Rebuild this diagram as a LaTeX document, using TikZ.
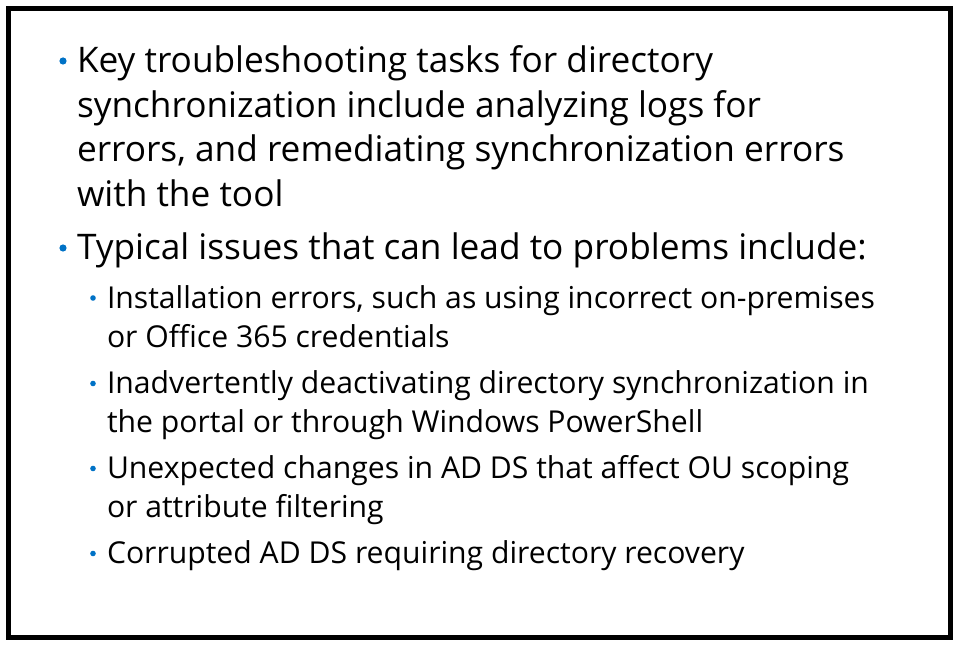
\documentclass[tikz,border=0pt]{standalone}
\usepackage{fontspec}
\setmainfont{Open Sans}
\definecolor{bulletblue}{HTML}{0072C6}
\newlength\LwA
\newlength\LwB
\newlength\FsA
\newlength\FsB
\begin{document}
\settowidth\LwA{\fontsize{10pt}{12pt}\selectfont Key troubleshooting tasks for directory}%
\settowidth\LwB{\fontsize{10pt}{12pt}\selectfont Installation errors, such as using incorrect on-premises}%
\FsA=\dimexpr 10pt*\number\dimexpr 477pt\relax/\number\LwA\relax
\FsB=\dimexpr 10pt*\number\dimexpr 576pt\relax/\number\LwB\relax
\begin{tikzpicture}[x=0.75pt,y=-0.75pt,
  lvla/.style={anchor=base west,inner sep=0pt,outer sep=0pt,font=\fontsize{\FsA}{1.2\FsA}\selectfont},
  lvlb/.style={anchor=base west,inner sep=0pt,outer sep=0pt,font=\fontsize{\FsB}{1.2\FsB}\selectfont},
  dota/.style={circle,fill=bulletblue,inner sep=0pt,minimum size=5.4pt},
  dotb/.style={circle,fill=bulletblue,inner sep=0pt,minimum size=4.2pt}]
\useasboundingbox (0,0) rectangle (960,645);
\draw[line width=3.75pt] (8.5,8.5) rectangle (950.5,637);
% level 1
\node[dota] (b1) at (63,61) {};
\node[lvla] (t1a) at (77,72.7) {Key troubleshooting tasks for directory};
\node[lvla] (t1b) at (77,117.3) {synchronization include analyzing logs for};
\node[lvla] (t1c) at (77,161.7) {errors, and remediating synchronization errors};
\node[lvla] (t1d) at (77,206.7) {with the tool};
\node[dota] (b2) at (63,248) {};
\node[lvla] (t2a) at (77,259.5) {Typical issues that can lead to problems include:};
% level 2
\node[dotb] (s1) at (93,298) {};
\node[lvlb] (s1a) at (107,308) {Installation errors, such as using incorrect on-premises};
\node[lvlb] (s1b) at (107,347) {or Office 365 credentials};
\node[dotb] (s2) at (93,383.5) {};
\node[lvlb] (s2a) at (107,393) {Inadvertently deactivating directory synchronization in};
\node[lvlb] (s2b) at (107,432) {the portal or through Windows PowerShell};
\node[dotb] (s3) at (93,468.5) {};
\node[lvlb] (s3a) at (107,478) {Unexpected changes in AD DS that affect OU scoping};
\node[lvlb] (s3b) at (107,517) {or attribute filtering};
\node[dotb] (s4) at (93,553.5) {};
\node[lvlb] (s4a) at (107,563) {Corrupted AD DS requiring directory recovery};
\end{tikzpicture}
\end{document}
